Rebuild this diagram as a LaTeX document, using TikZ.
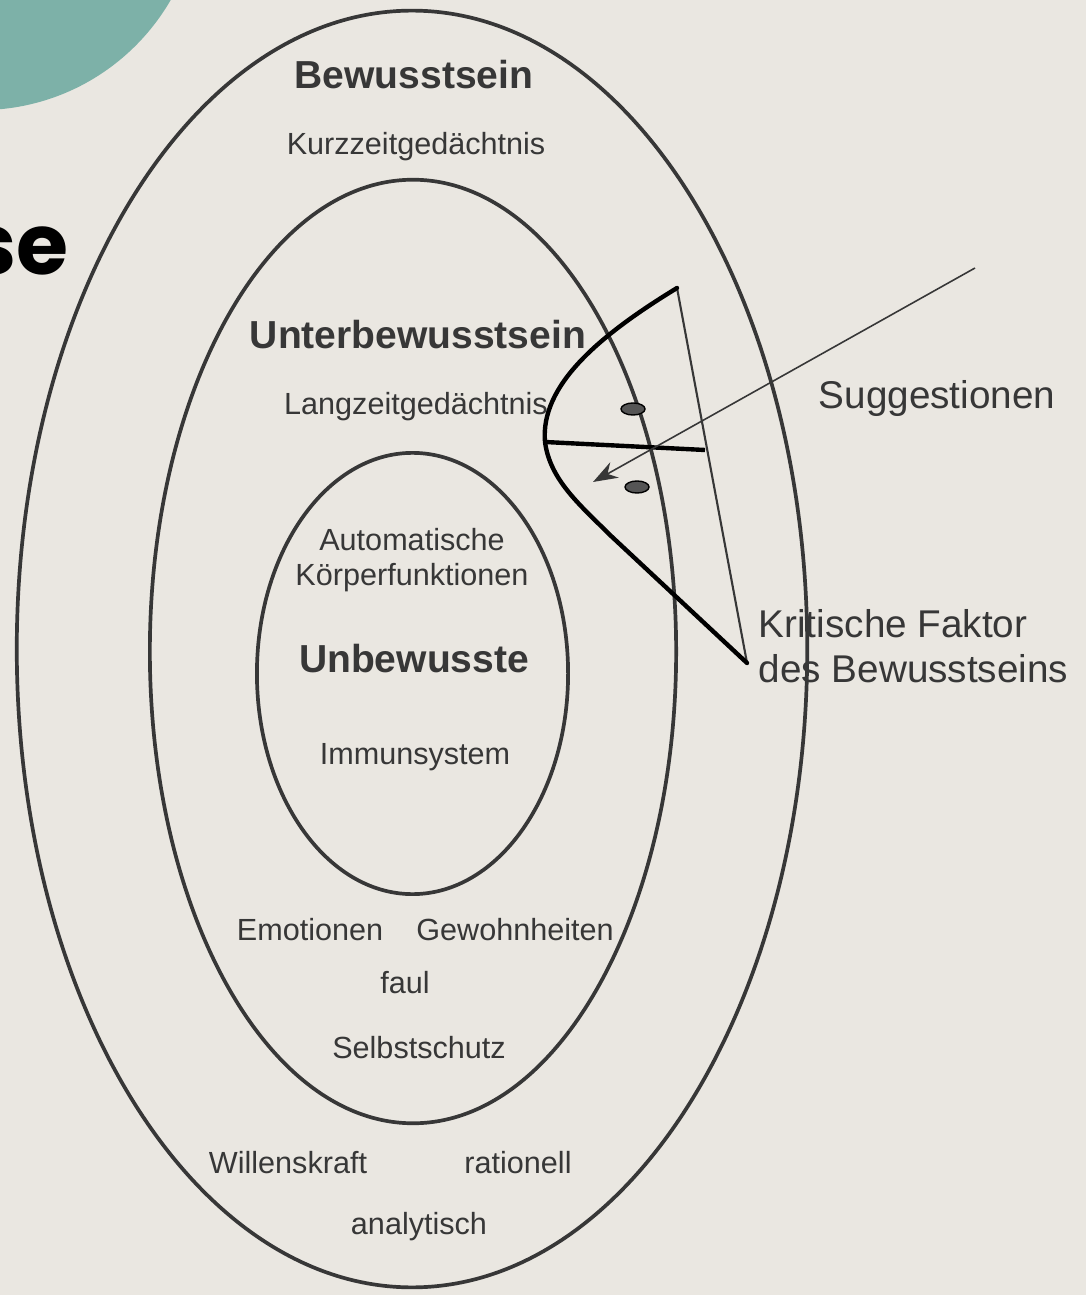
\documentclass[tikz,border=0pt]{standalone}
\usepackage{fontspec}
\setmainfont{Liberation Sans}
\newfontfamily\titlefont{Poppins}
\usetikzlibrary{arrows.meta}
\definecolor{paper}{RGB}{234,231,225}
\definecolor{tealbg}{RGB}{125,177,168}
\definecolor{ink}{RGB}{55,55,55}
\definecolor{dotfill}{RGB}{85,85,85}
\tikzset{
  ring/.style={draw=ink, line width=1.05pt},
  bigbold/.style={text=ink, font=\fontsize{11.1}{13}\selectfont\bfseries, inner sep=0pt},
  small/.style={text=ink, font=\fontsize{8.7}{9.96}\selectfont, inner sep=0pt, align=center},
  label/.style={text=ink, font=\fontsize{11}{12.8}\selectfont, inner sep=0pt, align=left},
  filter/.style={draw=black, line width=1.25pt},
  thin/.style={draw=ink, line width=0.45pt},
  dot/.style={draw=black, fill=dotfill, line width=0.4pt}
}
\begin{document}
\begin{tikzpicture}[x=0.01cm,y=-0.01cm]
\useasboundingbox (0,0) rectangle (1086,1295);
\clip (0,0) rectangle (1086,1295);
\fill[paper] (0,0) rectangle (1086,1295);
\fill[tealbg] (-20,-110) circle [radius=2.2cm];
\node[anchor=base east, inner sep=0pt, font=\titlefont\fontsize{24}{24}\selectfont\bfseries, text=black] (title) at (69,275) {se};

% rings
\draw[ring] (412,649) ellipse [x radius=3.95cm, y radius=6.38cm];
\draw[ring] (413,651.5) ellipse [x radius=2.63cm, y radius=4.715cm];
\draw[ring] (412.5,673.5) ellipse [x radius=1.555cm, y radius=2.205cm];

% texts
\node[bigbold] (bew) at (414,75) {Bewusstsein};
\node[small] (kurz) at (416,147) {Kurzzeitgedächtnis};
\node[bigbold] (unterb) at (418,335) {Unterbewusstsein};
\node[small] (lang) at (416,407) {Langzeitgedächtnis};
\node[small] (auto) at (412,560) {Automatische\\Körperfunktionen};
\node[bigbold] (unb) at (414,659) {Unbewusste};
\node[small] (immun) at (415,757) {Immunsystem};
\node[small] (emo) at (310,930) {Emotionen};
\node[small] (gew) at (515,930) {Gewohnheiten};
\node[small] (faul) at (405,983) {faul};
\node[small] (selbst) at (419,1048) {Selbstschutz};
\node[small] (will) at (288,1163) {Willenskraft};
\node[small] (rat) at (518,1163) {rationell};
\node[small] (ana) at (419,1227) {analytisch};
\node[label, anchor=west] (sugg) at (818,399) {Suggestionen};
\node[label, anchor=west] (krit) at (758,646) {Kritische Faktor\\des Bewusstseins};

% critical factor filter
\coordinate (ftop) at (677,288);
\coordinate (fvert) at (545,442);
\coordinate (fbot) at (747,663);
\coordinate (fbar) at (705,450);
\draw[thin, line width=0.6pt] (ftop) -- (fbot);
\draw[filter, line cap=round] (ftop) .. controls (600,335) and (540,385) .. (fvert)
      .. controls (550,480) and (580,505) .. (610,535) -- (fbot);
\draw[filter] (fvert) -- (fbar);
\draw[dot] (633,409) ellipse [x radius=0.12cm, y radius=0.06cm];
\draw[dot] (637,487) ellipse [x radius=0.12cm, y radius=0.06cm];

% suggestion arrow
\coordinate (sstart) at (975,268);
\coordinate (send) at (593,482);
\draw[thin, -{Stealth[length=7pt,width=5pt]}] (sstart) -- (send);
\end{tikzpicture}
\end{document}
